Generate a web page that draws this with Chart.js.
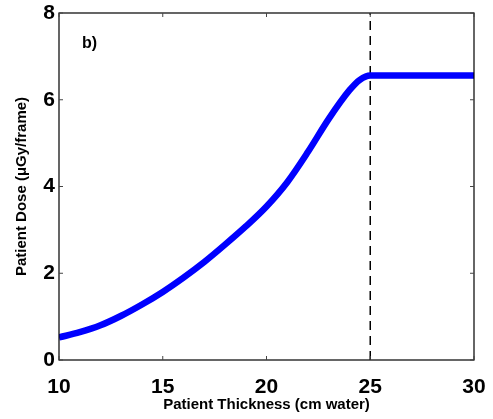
<!DOCTYPE html>
<html>
<head>
<meta charset="utf-8">
<script src="https://cdn.jsdelivr.net/npm/chart.js@4"></script>
<style>
  html, body { margin: 0; padding: 0; background: #fff; }
  #wrap { width: 493px; height: 419px; }
</style>
</head>
<body>
<div id="wrap"><canvas id="doseChart" width="493" height="419"></canvas></div>
<script>
// Data
const thickness = [10, 11, 12, 13, 14, 15, 16, 17, 18, 19, 20, 21, 22, 23, 24, 24.5, 25, 26, 27, 28, 29, 30];
const dose = [0.52, 0.64, 0.80, 1.02, 1.28, 1.57, 1.90, 2.26, 2.66, 3.08, 3.54, 4.10, 4.80, 5.56, 6.22, 6.46, 6.56, 6.56, 6.56, 6.56, 6.56, 6.56];
const cutoffX = 25;
const xTicks = [10, 15, 20, 25, 30];
const yTicks = [0, 2, 4, 6, 8];
const panelLabel = 'b)';

const FONT = '"Liberation Sans", Arial, sans-serif';

// Box + inward ticks, MATLAB style
const boxPlugin = {
  id: 'box',
  afterDraw(chart) {
    const { ctx, chartArea: a, scales } = chart;
    ctx.save();
    ctx.strokeStyle = '#000';
    ctx.lineWidth = 1.2;
    ctx.strokeRect(a.left, a.top, a.right - a.left, a.bottom - a.top);
    const tl = 4;
    ctx.lineWidth = 1;
    ctx.strokeStyle = '#444';
    xTicks.forEach(v => {
      const px = scales.x.getPixelForValue(v);
      ctx.beginPath();
      ctx.moveTo(px, a.bottom); ctx.lineTo(px, a.bottom - tl);
      ctx.moveTo(px, a.top); ctx.lineTo(px, a.top + tl);
      ctx.stroke();
    });
    yTicks.forEach(v => {
      const py = scales.y.getPixelForValue(v);
      ctx.beginPath();
      ctx.moveTo(a.left, py); ctx.lineTo(a.left + tl, py);
      ctx.moveTo(a.right, py); ctx.lineTo(a.right - tl, py);
      ctx.stroke();
    });
    ctx.fillStyle = '#000';
    ctx.font = 'bold 16px ' + FONT;
    ctx.textBaseline = 'middle';
    ctx.fillText(panelLabel, a.left + 23, a.top + 31);
    ctx.restore();
  }
};

new Chart(document.getElementById('doseChart'), {
  type: 'line',
  data: {
    datasets: [
      {
        data: thickness.map((t, i) => ({ x: t, y: dose[i] })),
        borderColor: '#0000ff',
        borderWidth: 6.5,
        pointRadius: 0,
        cubicInterpolationMode: 'monotone',
        clip: 0
      },
      {
        data: [{ x: cutoffX, y: 0 }, { x: cutoffX, y: 8 }],
        borderColor: '#000',
        borderWidth: 1.5,
        borderDash: [9, 6],
        pointRadius: 0
      }
    ]
  },
  options: {
    responsive: false,
    animation: false,
    layout: { padding: { left: 0, top: 13, right: 19, bottom: 0 } },
    plugins: { legend: { display: false }, tooltip: { enabled: false } },
    scales: {
      x: {
        type: 'linear',
        min: 10, max: 30,
        afterBuildTicks: s => { s.ticks = xTicks.map(v => ({ value: v })); },
        afterFit: s => { s.height = 59; s.paddingLeft = 0; s.paddingRight = 0; },
        grid: { display: false, drawTicks: false },
        border: { display: false },
        ticks: { color: '#000', padding: 15, font: { family: FONT, size: 21, weight: 'bold' } },
        title: {
          display: true,
          text: 'Patient Thickness (cm water)',
          color: '#000',
          padding: { top: 0, bottom: 5 },
          font: { family: FONT, size: 15, weight: 'bold' }
        }
      },
      y: {
        min: 0, max: 8,
        afterBuildTicks: s => { s.ticks = yTicks.map(v => ({ value: v })); },
        afterFit: s => { s.width = 59; s.paddingTop = 0; s.paddingBottom = 0; },
        grid: { display: false, drawTicks: false },
        border: { display: false },
        ticks: { color: '#000', padding: 4, font: { family: FONT, size: 21, weight: 'bold' } },
        title: {
          display: true,
          text: 'Patient Dose (\u03bcGy/frame)',
          color: '#000',
          padding: { top: 13, bottom: 0 },
          font: { family: FONT, size: 15, weight: 'bold' }
        }
      }
    }
  },
  plugins: [boxPlugin]
});
</script>
</body>
</html>
